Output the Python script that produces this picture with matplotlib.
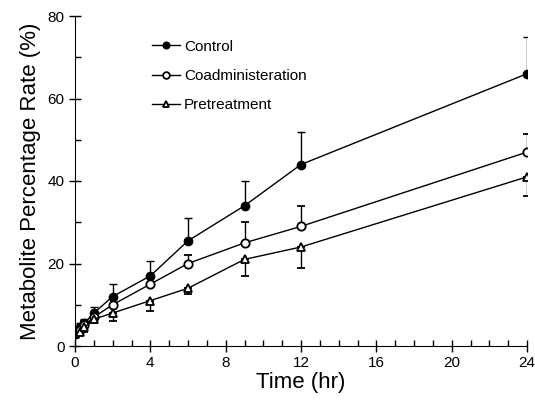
import numpy as np
import matplotlib
matplotlib.use("Agg")
import matplotlib.pyplot as plt
from matplotlib.ticker import MultipleLocator

plt.rcParams['font.family'] = ['Liberation Sans', 'DejaVu Sans']

# data
time = [0, 0.25, 0.5, 1, 2, 4, 6, 9, 12, 24]
control = [3.5, 4.5, 5.5, 8, 12, 17, 25.5, 34, 44, 66]
control_err = [1, 1, 1, 1.5, 3, 3.5, 5.5, 6, 8, 9]
coadmin = [3, 4, 5, 7, 10, 15, 20, 25, 29, 47]
coadmin_err = [0.5, 0.5, 1, 1, 1.5, 2, 2, 5, 5, 4.5]
pretreat = [2.8, 3.5, 4.5, 6.5, 8, 11, 14, 21, 24, 41]
pretreat_err = [0.5, 0.5, 1, 1, 2, 2.5, 1.5, 4, 5, 4.7]

fig = plt.figure(figsize=(5.35, 4.01), dpi=100)
ax = fig.add_axes([75/535, 55/401, 452/535, 330/401])

z = np.zeros(len(time))
ax.errorbar(time, control, yerr=[z, control_err], fmt='-o', color='black',
            mfc='black', ms=6, lw=1, elinewidth=1, capsize=3, label='Control')
ax.errorbar(time, coadmin, yerr=[z, coadmin_err], fmt='-o', color='black',
            mfc='white', ms=6, mew=1.3, lw=1, elinewidth=1, capsize=3,
            label='Coadministeration')
ax.errorbar(time, pretreat, yerr=[pretreat_err, z], fmt='-^', color='black',
            mfc='white', ms=6, mew=1.3, lw=1, elinewidth=1, capsize=3,
            label='Pretreatment')

ax.set_xlim(0, 24)
ax.set_ylim(0, 80)
ax.xaxis.set_major_locator(MultipleLocator(4))
ax.xaxis.set_minor_locator(MultipleLocator(1))
ax.yaxis.set_major_locator(MultipleLocator(20))
ax.yaxis.set_minor_locator(MultipleLocator(10))
ax.spines['top'].set_visible(False)
ax.spines['right'].set_visible(False)
ax.tick_params(which='major', direction='inout', length=8, width=1, labelsize=11)
ax.tick_params(which='minor', direction='in', length=4, width=1)

ax.set_xlabel('Time (hr)', fontsize=16, labelpad=1)
ax.set_ylabel('Metabolite Percentage Rate (%)', fontsize=16, labelpad=5)

handles, labels = ax.get_legend_handles_labels()
handles = [h[0] for h in handles]
ax.legend(handles, labels, loc='upper left', bbox_to_anchor=(0.14, 0.97),
          frameon=False, fontsize=11, handlelength=1.8, markerscale=0.8,
          labelspacing=1.0, handletextpad=0.3)

fig.savefig('out.png', dpi=100)
